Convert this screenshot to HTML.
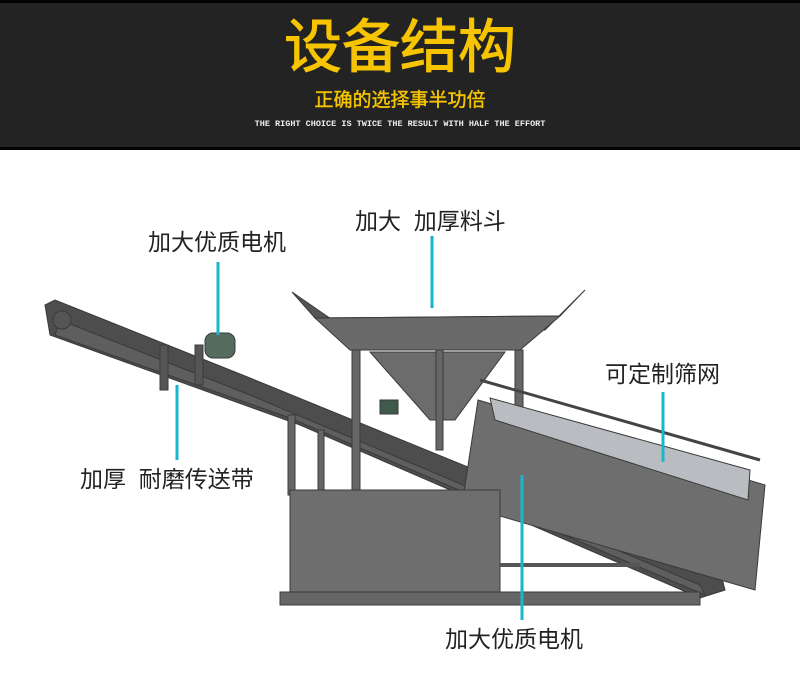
<!DOCTYPE html>
<html><head><meta charset="utf-8"><style>
body{margin:0;width:800px;height:695px;background:#fff;overflow:hidden;position:relative;font-family:"Liberation Sans","Noto Sans CJK SC",sans-serif}
.hd{position:absolute;left:0;top:0;width:800px;background:#232323;border-top:3px solid #000;box-sizing:border-box;border-bottom:3px solid #000;height:150px}
.t1{position:absolute;top:12px;left:0;width:800px;text-align:center;color:#f6c400;font-size:58px;line-height:66px;-webkit-text-stroke:1px #f6c400}
.t2{position:absolute;top:86px;left:0;width:800px;text-align:center;color:#f6c400;font-size:19px;line-height:24px;-webkit-text-stroke:0.4px #f6c400}
.t3{position:absolute;top:116px;left:0;width:800px;text-align:center;color:#eee;font-size:8.5px;font-family:"Liberation Mono",monospace;font-weight:bold}
.lb{position:absolute;font-size:23px;color:#222;white-space:nowrap;line-height:26px}
</style></head><body>
<div class="hd"><div class="t1">设备结构</div><div class="t2">正确的选择事半功倍</div><div class="t3">THE RIGHT CHOICE IS TWICE THE RESULT WITH HALF THE EFFORT</div></div>
<svg width="800" height="695" style="position:absolute;left:0;top:0">
<g stroke="#3a3a3a" stroke-width="1">
<polygon points="45,305 55,300 250,378 720,570 725,590 700,598 300,425 50,335" fill="#4d4d4d"/>
<polygon points="60,320 250,395 700,585 705,595 290,418 55,335" fill="#5e5e5e"/>
<circle cx="62" cy="320" r="9" fill="#555"/>
<rect x="160" y="345" width="8" height="45" fill="#555"/><rect x="195" y="345" width="8" height="40" fill="#555"/>
<rect x="205" y="333" width="30" height="25" rx="8" fill="#556b5e"/>
<polygon points="292,292 315,318 560,316 585,290 545,330 350,332" fill="#555"/>
<polygon points="315,318 560,316 520,350 350,350" fill="#6a6a6a"/>
<polygon points="370,352 505,352 455,420 430,420" fill="#6c6c6c"/>
<rect x="352" y="350" width="8" height="150" fill="#666"/>
<rect x="436" y="350" width="7" height="100" fill="#666"/>
<rect x="515" y="350" width="8" height="170" fill="#666"/>
<rect x="380" y="400" width="18" height="14" fill="#3d5a4a"/>
<rect x="288" y="415" width="7" height="80" fill="#666"/><rect x="318" y="430" width="6" height="65" fill="#666"/>
<polygon points="478,400 765,485 755,590 462,505" fill="#6e6e6e"/>
<polygon points="490,398 750,470 748,500 495,420" fill="#b9bcc0"/>
<line x1="480" y1="380" x2="760" y2="460" stroke="#444" stroke-width="3"/>
<rect x="290" y="490" width="210" height="105" fill="#6e6e6e"/>
<polygon points="280,592 700,592 700,605 280,605" fill="#666"/>
<line x1="500" y1="565" x2="640" y2="565" stroke="#555" stroke-width="4"/>
</g>
<g stroke="#1ab6cc" stroke-width="3">
<line x1="218" y1="262" x2="218" y2="335"/>
<line x1="432" y1="236" x2="432" y2="308"/>
<line x1="177" y1="385" x2="177" y2="460"/>
<line x1="663" y1="392" x2="663" y2="462"/>
<line x1="522" y1="475" x2="522" y2="620"/>
</g>
</svg>
<div class="lb" style="left:148px;top:229px">加大优质电机</div>
<div class="lb" style="left:355px;top:208px">加大&nbsp;&nbsp;加厚料斗</div>
<div class="lb" style="left:605px;top:361px">可定制筛网</div>
<div class="lb" style="left:80px;top:466px">加厚&nbsp;&nbsp;耐磨传送带</div>
<div class="lb" style="left:445px;top:626px">加大优质电机</div>
</body></html>
